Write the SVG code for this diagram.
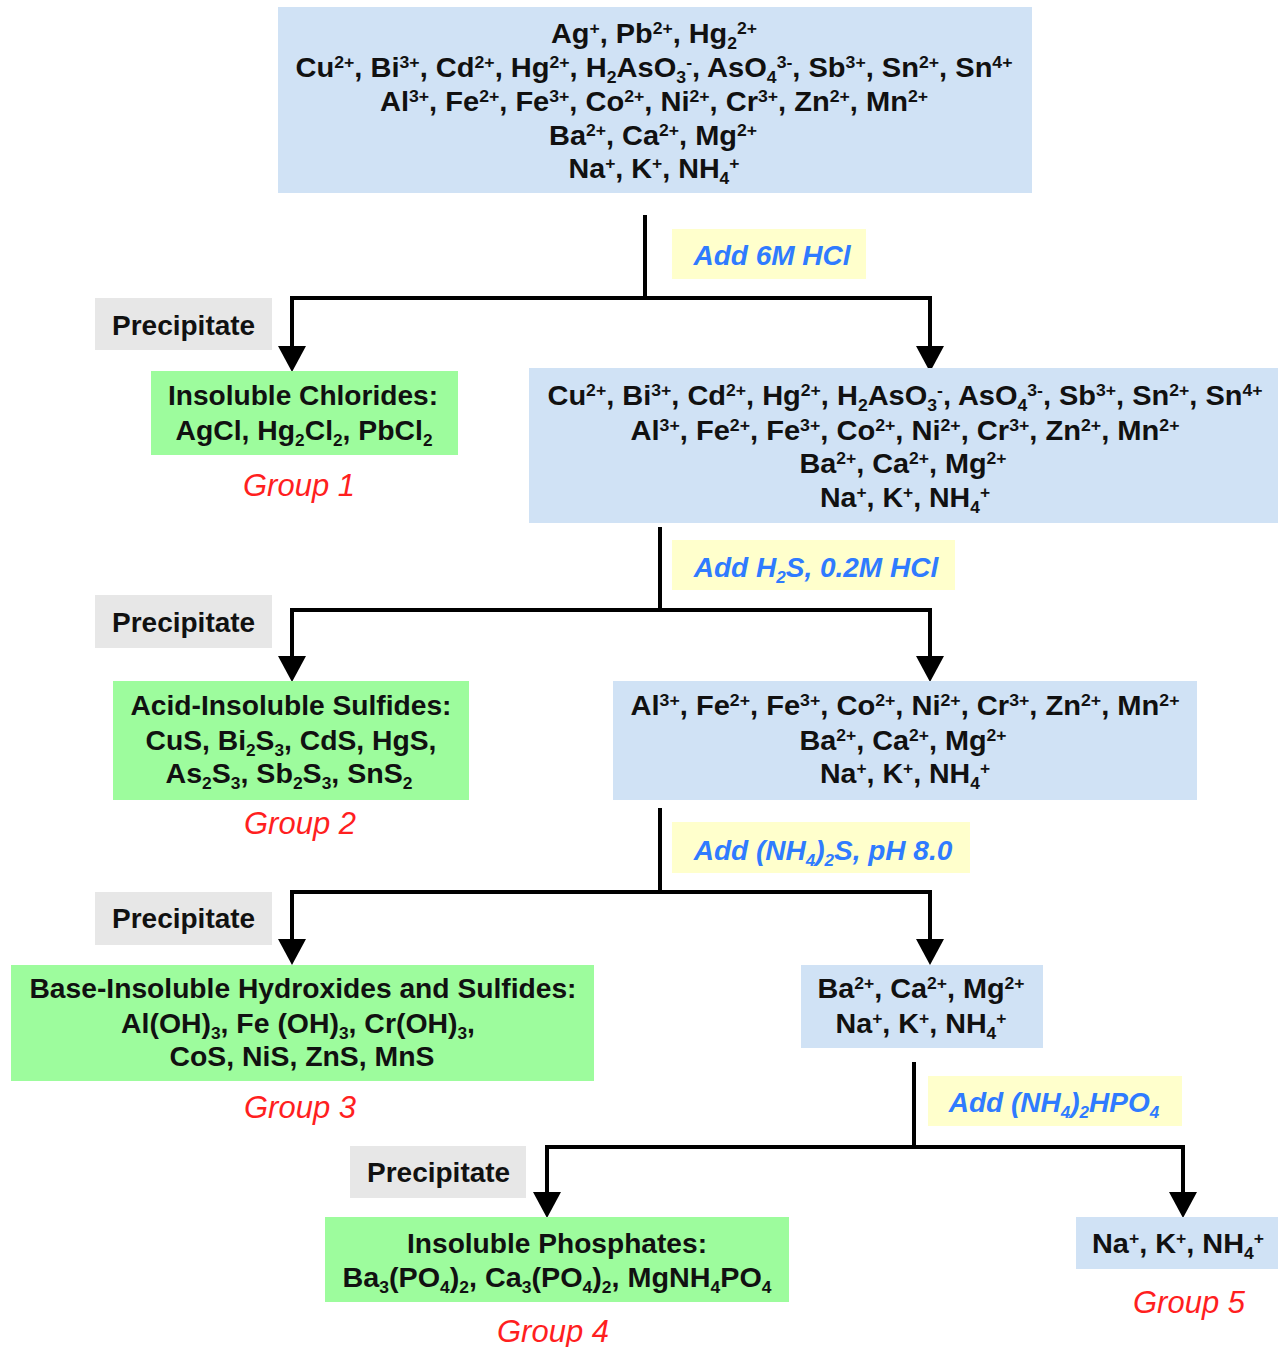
<svg xmlns="http://www.w3.org/2000/svg" width="1278" height="1347" viewBox="0 0 1278 1347">
<style>
  .bg{fill:#ffffff}
  .ions{fill:#d0e2f5}
  .grp{fill:#9dfc9d}
  .prec{fill:#e7e7e7}
  .cond{fill:#ffffcc}
  .t{font-family:"Liberation Sans",Arial,sans-serif;font-weight:bold;font-size:28px;fill:#111111;text-anchor:middle}
  .pt{font-family:"Liberation Sans",Arial,sans-serif;font-weight:bold;font-size:28px;fill:#111111}
  .ct{font-family:"Liberation Sans",Arial,sans-serif;font-weight:bold;font-style:italic;font-size:28px;fill:#2f7bff;text-anchor:middle}
  .gl{font-family:"Liberation Sans",Arial,sans-serif;font-style:italic;font-size:31px;fill:#ff1f1f;text-anchor:middle}
  .sp{font-size:17px;baseline-shift:9px}
  .sb{font-size:17px;baseline-shift:-6px}
  .ln{fill:none;stroke:#000000;stroke-width:4}
  .ar{fill:none;stroke:#000000;stroke-width:4;marker-end:url(#head)}
</style>
<defs>
  <marker id="head" markerUnits="userSpaceOnUse" viewBox="0 0 26 28" refX="14" refY="14" markerWidth="26" markerHeight="28" orient="auto">
    <path d="M0,0 L26,14 L0,28 z" fill="#000000"/>
  </marker>
</defs>
<rect class="bg" x="0" y="0" width="1278" height="1347"/>

<g id="connectors">
  <path class="ln" d="M645,215 V298"/>
  <path class="ar" d="M647,298 H292 V360"/>
  <path class="ar" d="M643,298 H930 V360"/>
  <path class="ln" d="M660,527 V610"/>
  <path class="ar" d="M662,610 H292 V670"/>
  <path class="ar" d="M658,610 H930 V670"/>
  <path class="ln" d="M660,808 V892"/>
  <path class="ar" d="M662,892 H292 V953"/>
  <path class="ar" d="M658,892 H930 V953"/>
  <path class="ln" d="M914,1062 V1147"/>
  <path class="ar" d="M916,1147 H547 V1206"/>
  <path class="ar" d="M912,1147 H1183 V1206"/>
</g>

<g id="start">
  <rect class="ions" x="278" y="7" width="754" height="186"/>
  <text class="t" x="654" y="43" textLength="206" lengthAdjust="spacingAndGlyphs">Ag<tspan class="sp">+</tspan>, Pb<tspan class="sp">2+</tspan>, Hg<tspan class="sb">2</tspan><tspan class="sp">2+</tspan></text>
  <text class="t" x="654" y="77" textLength="717" lengthAdjust="spacingAndGlyphs">Cu<tspan class="sp">2+</tspan>, Bi<tspan class="sp">3+</tspan>, Cd<tspan class="sp">2+</tspan>, Hg<tspan class="sp">2+</tspan>, H<tspan class="sb">2</tspan>AsO<tspan class="sb">3</tspan><tspan class="sp">-</tspan>, AsO<tspan class="sb">4</tspan><tspan class="sp">3-</tspan>, Sb<tspan class="sp">3+</tspan>, Sn<tspan class="sp">2+</tspan>, Sn<tspan class="sp">4+</tspan></text>
  <text class="t" x="654" y="111" textLength="548" lengthAdjust="spacingAndGlyphs">Al<tspan class="sp">3+</tspan>, Fe<tspan class="sp">2+</tspan>, Fe<tspan class="sp">3+</tspan>, Co<tspan class="sp">2+</tspan>, Ni<tspan class="sp">2+</tspan>, Cr<tspan class="sp">3+</tspan>, Zn<tspan class="sp">2+</tspan>, Mn<tspan class="sp">2+</tspan></text>
  <text class="t" x="653" y="145" textLength="208" lengthAdjust="spacingAndGlyphs">Ba<tspan class="sp">2+</tspan>, Ca<tspan class="sp">2+</tspan>, Mg<tspan class="sp">2+</tspan></text>
  <text class="t" x="654" y="178" textLength="171" lengthAdjust="spacingAndGlyphs">Na<tspan class="sp">+</tspan>, K<tspan class="sp">+</tspan>, NH<tspan class="sb">4</tspan><tspan class="sp">+</tspan></text>
</g>

<g id="cond1">
  <rect class="cond" x="672" y="229" width="194" height="50"/>
  <text class="ct" x="772" y="265">Add 6M HCl</text>
</g>
<g id="prec1">
  <rect class="prec" x="95" y="298" width="177" height="52"/>
  <text class="pt" x="112" y="335">Precipitate</text>
</g>
<g id="group1">
  <rect class="grp" x="151" y="371" width="307" height="84"/>
  <text class="t" x="303" y="405" textLength="270" lengthAdjust="spacingAndGlyphs">Insoluble Chlorides:</text>
  <text class="t" x="304" y="440" textLength="257" lengthAdjust="spacingAndGlyphs">AgCl, Hg<tspan class="sb">2</tspan>Cl<tspan class="sb">2</tspan>, PbCl<tspan class="sb">2</tspan></text>
  <text class="gl" x="299" y="496">Group 1</text>
</g>

<g id="filtrate1">
  <rect class="ions" x="529" y="368" width="749" height="155"/>
  <text class="t" x="905" y="405" textLength="715" lengthAdjust="spacingAndGlyphs">Cu<tspan class="sp">2+</tspan>, Bi<tspan class="sp">3+</tspan>, Cd<tspan class="sp">2+</tspan>, Hg<tspan class="sp">2+</tspan>, H<tspan class="sb">2</tspan>AsO<tspan class="sb">3</tspan><tspan class="sp">-</tspan>, AsO<tspan class="sb">4</tspan><tspan class="sp">3-</tspan>, Sb<tspan class="sp">3+</tspan>, Sn<tspan class="sp">2+</tspan>, Sn<tspan class="sp">4+</tspan></text>
  <text class="t" x="905" y="440" textLength="549" lengthAdjust="spacingAndGlyphs">Al<tspan class="sp">3+</tspan>, Fe<tspan class="sp">2+</tspan>, Fe<tspan class="sp">3+</tspan>, Co<tspan class="sp">2+</tspan>, Ni<tspan class="sp">2+</tspan>, Cr<tspan class="sp">3+</tspan>, Zn<tspan class="sp">2+</tspan>, Mn<tspan class="sp">2+</tspan></text>
  <text class="t" x="903" y="473" textLength="207" lengthAdjust="spacingAndGlyphs">Ba<tspan class="sp">2+</tspan>, Ca<tspan class="sp">2+</tspan>, Mg<tspan class="sp">2+</tspan></text>
  <text class="t" x="905" y="507" textLength="170" lengthAdjust="spacingAndGlyphs">Na<tspan class="sp">+</tspan>, K<tspan class="sp">+</tspan>, NH<tspan class="sb">4</tspan><tspan class="sp">+</tspan></text>
</g>

<g id="cond2">
  <rect class="cond" x="672" y="540" width="283" height="50"/>
  <text class="ct" x="816" y="577">Add H<tspan class="sb">2</tspan>S, 0.2M HCl</text>
</g>
<g id="prec2">
  <rect class="prec" x="95" y="595" width="177" height="53"/>
  <text class="pt" x="112" y="632">Precipitate</text>
</g>
<g id="group2">
  <rect class="grp" x="113" y="681" width="356" height="119"/>
  <text class="t" x="291" y="715" textLength="321" lengthAdjust="spacingAndGlyphs">Acid-Insoluble Sulfides:</text>
  <text class="t" x="291" y="750" textLength="291" lengthAdjust="spacingAndGlyphs">CuS, Bi<tspan class="sb">2</tspan>S<tspan class="sb">3</tspan>, CdS, HgS,</text>
  <text class="t" x="289" y="783" textLength="247" lengthAdjust="spacingAndGlyphs">As<tspan class="sb">2</tspan>S<tspan class="sb">3</tspan>, Sb<tspan class="sb">2</tspan>S<tspan class="sb">3</tspan>, SnS<tspan class="sb">2</tspan></text>
  <text class="gl" x="300" y="834">Group 2</text>
</g>

<g id="filtrate2">
  <rect class="ions" x="613" y="681" width="584" height="119"/>
  <text class="t" x="905" y="715" textLength="549" lengthAdjust="spacingAndGlyphs">Al<tspan class="sp">3+</tspan>, Fe<tspan class="sp">2+</tspan>, Fe<tspan class="sp">3+</tspan>, Co<tspan class="sp">2+</tspan>, Ni<tspan class="sp">2+</tspan>, Cr<tspan class="sp">3+</tspan>, Zn<tspan class="sp">2+</tspan>, Mn<tspan class="sp">2+</tspan></text>
  <text class="t" x="903" y="750" textLength="207" lengthAdjust="spacingAndGlyphs">Ba<tspan class="sp">2+</tspan>, Ca<tspan class="sp">2+</tspan>, Mg<tspan class="sp">2+</tspan></text>
  <text class="t" x="905" y="783" textLength="170" lengthAdjust="spacingAndGlyphs">Na<tspan class="sp">+</tspan>, K<tspan class="sp">+</tspan>, NH<tspan class="sb">4</tspan><tspan class="sp">+</tspan></text>
</g>

<g id="cond3">
  <rect class="cond" x="672" y="822" width="298" height="51"/>
  <text class="ct" x="823" y="860">Add (NH<tspan class="sb">4</tspan>)<tspan class="sb">2</tspan>S, pH 8.0</text>
</g>
<g id="prec3">
  <rect class="prec" x="95" y="892" width="177" height="53"/>
  <text class="pt" x="112" y="928">Precipitate</text>
</g>
<g id="group3">
  <rect class="grp" x="11" y="965" width="583" height="116"/>
  <text class="t" x="303" y="998" textLength="547" lengthAdjust="spacingAndGlyphs">Base-Insoluble Hydroxides and Sulfides:</text>
  <text class="t" x="298" y="1033" textLength="354" lengthAdjust="spacingAndGlyphs">Al(OH)<tspan class="sb">3</tspan>, Fe (OH)<tspan class="sb">3</tspan>, Cr(OH)<tspan class="sb">3</tspan>,</text>
  <text class="t" x="302" y="1066" textLength="265" lengthAdjust="spacingAndGlyphs">CoS, NiS, ZnS, MnS</text>
  <text class="gl" x="300" y="1118">Group 3</text>
</g>

<g id="filtrate3">
  <rect class="ions" x="801" y="965" width="242" height="83"/>
  <text class="t" x="921" y="998" textLength="207" lengthAdjust="spacingAndGlyphs">Ba<tspan class="sp">2+</tspan>, Ca<tspan class="sp">2+</tspan>, Mg<tspan class="sp">2+</tspan></text>
  <text class="t" x="921" y="1033" textLength="171" lengthAdjust="spacingAndGlyphs">Na<tspan class="sp">+</tspan>, K<tspan class="sp">+</tspan>, NH<tspan class="sb">4</tspan><tspan class="sp">+</tspan></text>
</g>

<g id="cond4">
  <rect class="cond" x="928" y="1076" width="254" height="50"/>
  <text class="ct" x="1054" y="1112">Add (NH<tspan class="sb">4</tspan>)<tspan class="sb">2</tspan>HPO<tspan class="sb">4</tspan></text>
</g>
<g id="prec4">
  <rect class="prec" x="350" y="1146" width="176" height="52"/>
  <text class="pt" x="367" y="1182">Precipitate</text>
</g>
<g id="group4">
  <rect class="grp" x="325" y="1217" width="464" height="85"/>
  <text class="t" x="557" y="1253" textLength="300" lengthAdjust="spacingAndGlyphs">Insoluble Phosphates:</text>
  <text class="t" x="557" y="1287" textLength="429" lengthAdjust="spacingAndGlyphs">Ba<tspan class="sb">3</tspan>(PO<tspan class="sb">4</tspan>)<tspan class="sb">2</tspan>, Ca<tspan class="sb">3</tspan>(PO<tspan class="sb">4</tspan>)<tspan class="sb">2</tspan>, MgNH<tspan class="sb">4</tspan>PO<tspan class="sb">4</tspan></text>
  <text class="gl" x="553" y="1342">Group 4</text>
</g>

<g id="group5">
  <rect class="ions" x="1076" y="1217" width="202" height="52"/>
  <text class="t" x="1178" y="1253" textLength="172" lengthAdjust="spacingAndGlyphs">Na<tspan class="sp">+</tspan>, K<tspan class="sp">+</tspan>, NH<tspan class="sb">4</tspan><tspan class="sp">+</tspan></text>
  <text class="gl" x="1189" y="1313">Group 5</text>
</g>
</svg>
